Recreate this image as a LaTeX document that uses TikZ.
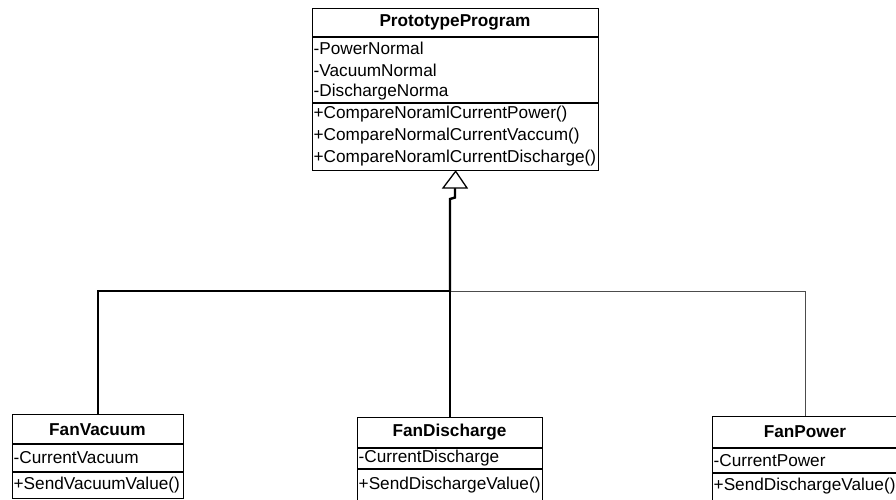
\documentclass[tikz,border=0pt]{standalone}
\usepackage{fontspec}
\setmainfont{Liberation Sans}
\begin{document}
\begin{tikzpicture}[x=1pt,y=-1pt,
 cls/.style={draw, line width=1.3pt, inner sep=0pt, fill=white},
 txt/.style={anchor=west, inner sep=0pt, font=\fontsize{17.2}{20}\selectfont},
 ttl/.style={inner sep=0pt, font=\fontsize{17.2}{20}\selectfont\bfseries},
 sepline/.style={line width=1.3pt},
 inhbold/.style={line width=2.4pt},
 inhlight/.style={line width=1pt, black!70}]
\clip (0,0) rectangle (896,500);
\fill[white] (0,0) rectangle (896,500);

% PrototypeProgram
\node[cls, minimum width=286pt, minimum height=162pt, anchor=north west] (pp) at (312,8) {};
\draw[sepline] (312,37) -- (598,37);
\draw[sepline] (312,103) -- (598,103);
\node[ttl] (ppt) at (455,22.5) {PrototypeProgram};
\node[txt] (ppa1) at (313.5,48) {-PowerNormal};
\node[txt] (ppa2) at (313.5,70) {-VacuumNormal};
\node[txt] (ppa3) at (313.5,92) {-DischargeNorma};
\node[txt] (ppm1) at (313.5,114) {+CompareNoramlCurrentPower()};
\node[txt] (ppm2) at (313.5,136) {+CompareNormalCurrentVaccum()};
\node[txt] (ppm3) at (313.5,158) {+CompareNoramlCurrentDischarge()};

% FanVacuum
\node[cls, minimum width=171pt, minimum height=84pt, anchor=north west] (fv) at (12,414) {};
\draw[sepline] (12,444) -- (183,444);
\draw[sepline] (12,472) -- (183,472);
\node[ttl] (fvt) at (97.5,429.5) {FanVacuum};
\node[txt] (fva) at (13.5,458) {-CurrentVacuum};
\node[txt] (fvm) at (13.5,485.5) {+SendVacuumValue()};

% FanDischarge
\node[cls, minimum width=185pt, minimum height=86pt, anchor=north west] (fd) at (357,417) {};
\draw[sepline] (357,448) -- (542,448);
\draw[sepline] (357,469) -- (542,469);
\node[ttl] (fdt) at (449.5,432.5) {FanDischarge};
\node[txt] (fda) at (358.5,458.5) {-CurrentDischarge};
\node[txt] (fdm) at (358.5,485) {+SendDischargeValue()};

% FanPower
\node[cls, minimum width=186pt, minimum height=87pt, anchor=north west] (fp) at (712,416) {};
\draw[sepline] (712,448) -- (898,448);
\draw[sepline] (712,473) -- (898,473);
\node[ttl] (fpt) at (805,432) {FanPower};
\node[txt] (fpa) at (713.5,460.5) {-CurrentPower};
\node[txt] (fpm) at (713.5,486.5) {+SendDischargeValue()};

% generalization connectors
\coordinate (tb) at (455,188);
\coordinate (jn) at (450,291);
\draw[inhlight] (jn) -| (fp.north);
\draw[inhbold] (tb) -- ++(0,9.5) -- ++(-5,1.5) -- (jn);
\draw[inhbold] (jn) -| (fv.north);
\draw[inhbold] (jn) -- (jn |- fd.north);
\draw[line width=1.3pt, fill=white, line join=miter] (pp.south) -- (tb -| 443,0) -- (tb -| 467,0) -- cycle;
\end{tikzpicture}
\end{document}
